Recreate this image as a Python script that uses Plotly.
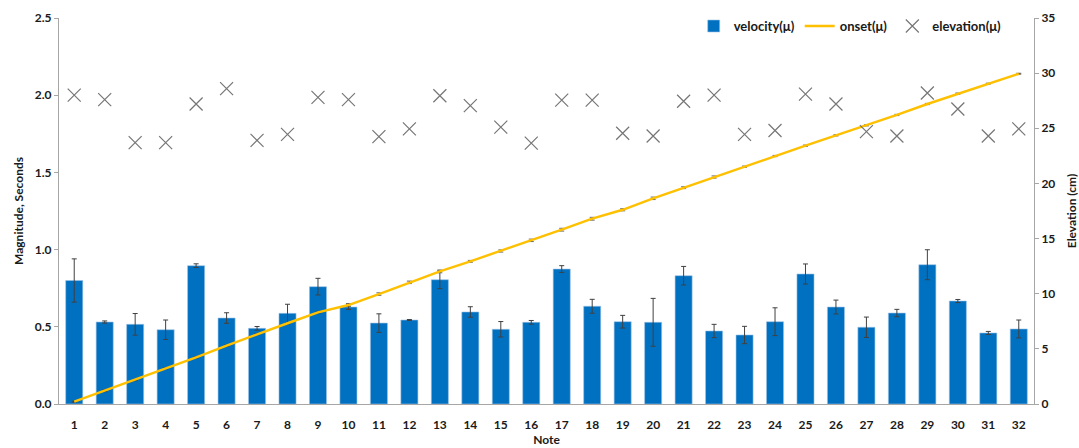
import plotly.graph_objects as go

notes = list(range(1, 33))

velocity_mean = [0.80, 0.531, 0.516, 0.481, 0.896, 0.557, 0.490, 0.587, 0.760, 0.628,
                 0.524, 0.544, 0.805, 0.596, 0.484, 0.529, 0.874, 0.633, 0.533, 0.529,
                 0.831, 0.473, 0.447, 0.533, 0.842, 0.628, 0.497, 0.589, 0.902, 0.667,
                 0.460, 0.486]
velocity_err = [0.14, 0.007, 0.07, 0.063, 0.012, 0.034, 0.012, 0.059, 0.054, 0.015,
                0.06, 0.003, 0.058, 0.034, 0.05, 0.012, 0.022, 0.045, 0.041, 0.155,
                0.06, 0.043, 0.056, 0.09, 0.065, 0.045, 0.066, 0.024, 0.097, 0.01,
                0.01, 0.058]

onset_mean = [0.015, 0.086, 0.155, 0.231, 0.302, 0.378, 0.453, 0.523, 0.594, 0.641,
              0.712, 0.788, 0.859, 0.924, 0.991, 1.060, 1.129, 1.200, 1.258, 1.332,
              1.401, 1.470, 1.537, 1.606, 1.673, 1.740, 1.805, 1.872, 1.943, 2.010,
              2.075, 2.139]
onset_err = [0.004, 0.006, 0.004, 0.004, 0.004, 0.004, 0.004, 0.005, 0.006, 0.01,
             0.008, 0.008, 0.009, 0.006, 0.007, 0.008, 0.009, 0.009, 0.007, 0.008,
             0.006, 0.007, 0.004, 0.004, 0.004, 0.004, 0.004, 0.004, 0.004, 0.004,
             0.003, 0.003]

elevation_mean = [28.0, 27.6, 23.7, 23.7, 27.2, 28.6, 23.9, 24.45, 27.8, 27.6,
                  24.25, 24.95, 27.95, 27.05, 25.1, 23.65, 27.55, 27.55, 24.55, 24.3,
                  27.45, 28.0, 24.45, 24.8, 28.1, 27.2, 24.7, 24.3, 28.2, 26.75,
                  24.3, 24.95]

FONT = "Lato"
AXIS_GREY = "#a6a6a6"
TEXT = "#1a1a1a"
bold = dict(family=FONT, size=12, color=TEXT, weight="bold")

fig = go.Figure()

fig.add_trace(go.Bar(
    x=notes, y=velocity_mean, name="velocity(\u03bc)",
    marker=dict(color="#0070C0", line=dict(color="#9dc3e6", width=0.6)),
    width=0.56,
    error_y=dict(type="data", array=velocity_err, color="#404040",
                 thickness=1, width=2.5),
    yaxis="y",
))

fig.add_trace(go.Scatter(
    x=notes, y=onset_mean, name="onset(\u03bc)", mode="lines",
    line=dict(color="#FFC000", width=2.4),
    error_y=dict(type="data", array=onset_err, color="#404040",
                 thickness=0.8, width=2.5),
    yaxis="y",
))

fig.add_trace(go.Scatter(
    x=notes, y=elevation_mean, name="elevation(\u03bc)", mode="markers",
    marker=dict(symbol="x-thin-open", size=13,
                line=dict(color="#767676", width=1.2), color="#767676"),
    yaxis="y2",
))

fig.update_layout(
    width=1079, height=448,
    margin=dict(l=59, r=45, t=18, b=44, autoexpand=False),
    paper_bgcolor="white", plot_bgcolor="white",
    font=dict(family=FONT, size=12, color=TEXT),
    bargap=0.44,
    showlegend=True,
    legend=dict(orientation="h", x=0.972, xanchor="right", y=1.018, yanchor="top",
                font=dict(family=FONT, size=13, color=TEXT, weight="bold"),
                bgcolor="rgba(0,0,0,0)", traceorder="normal"),
    xaxis=dict(
        range=[0.5, 32.5], tickmode="array", tickvals=notes,
        ticktext=[str(n) for n in notes], showgrid=False, zeroline=False,
        showline=True, linecolor=AXIS_GREY, linewidth=1, ticks="",
        tickfont=bold, ticklabelstandoff=10, automargin=False,
        title=dict(text="Note", standoff=3, font=bold),
    ),
    yaxis=dict(
        range=[0, 2.5], dtick=0.5, tickformat=".1f", showgrid=False,
        zeroline=False, showline=True, linecolor=AXIS_GREY, linewidth=1,
        ticks="outside", ticklen=4, tickcolor=AXIS_GREY, automargin=False,
        tickfont=bold,
        title=dict(text="Magnitude, Seconds", standoff=8, font=bold),
    ),
    yaxis2=dict(
        range=[0, 35], dtick=5, overlaying="y", side="right", showgrid=False,
        zeroline=False, showline=True, linecolor=AXIS_GREY, linewidth=1,
        ticks="outside", ticklen=4, tickcolor=AXIS_GREY, automargin=False,
        tickfont=bold,
        title=dict(text="Elevation (cm)", standoff=13, font=bold),
    ),
)

fig.write_html("out.html")
